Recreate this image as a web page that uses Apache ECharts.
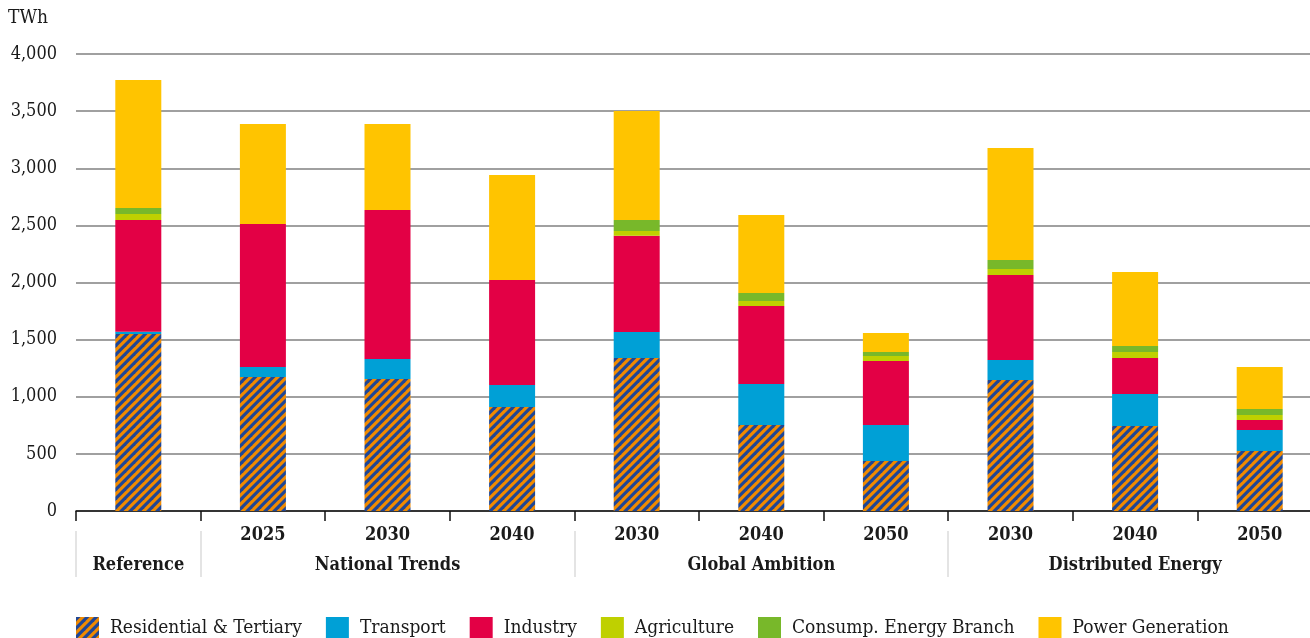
<!DOCTYPE html>
<html>
<head>
<meta charset="utf-8">
<script src="https://cdn.jsdelivr.net/npm/echarts@6/dist/echarts.min.js"></script>
<style>
  html, body { margin: 0; padding: 0; background: #fff; }
  #chart { width: 1310px; height: 638px; }
</style>
</head>
<body>
<div id="chart"></div>
<script>
// scenario years (first axis row) and scenario names (second axis row)
const years = ['', '2025', '2030', '2040', '2030', '2040', '2050', '2030', '2040', '2050']
const groups = ['Reference', '', 'National Trends', '', '', 'Global Ambition', '', '', 'Distributed Energy', '']
const groupStarts = [0, 1, 4, 7]

// TWh per sector
const residential = [1550, 1173, 1155, 910, 1340, 753, 438, 1147, 744, 525]
const transport = [20, 87, 175, 193, 227, 359, 315, 175, 280, 184]
const industry = [977, 1252, 1305, 919, 843, 682, 560, 744, 315, 87]
const agriculture = [53, 0, 0, 0, 41, 44, 44, 52, 53, 44]
const consumpBranch = [52, 0, 0, 0, 96, 70, 35, 79, 52, 53]
const powerGeneration = [1120, 875, 752, 919, 954, 683, 166, 980, 648, 367]

const yTicks = { min: 0, max: 4000, interval: 500 }

const FONT = "'DejaVu Serif Condensed', 'DejaVu Serif', serif"
const TEXT = '#1a1a1a'

// diagonal orange/blue hatch for residential
function makeHatch() {
	const s = 9
	const c = document.createElement('canvas')
	c.width = s
	c.height = s
	const ctx = c.getContext('2d')
	ctx.fillStyle = '#f08a00'
	ctx.fillRect(0, 0, s, s)
	ctx.fillStyle = '#1f4696'
	const w = s / 2
	for (let k = -1; k <= 1; k++) {
		const o = k * s
		ctx.beginPath()
		ctx.moveTo(o, s)
		ctx.lineTo(o + w, s)
		ctx.lineTo(o + w + s, 0)
		ctx.lineTo(o + s, 0)
		ctx.closePath()
		ctx.fill()
	}
	return c
}

const sectors = [
	{ name: 'Residential & Tertiary', data: residential, color: { image: makeHatch(), repeat: 'repeat' } },
	{ name: 'Transport', data: transport, color: '#00a0d6' },
	{ name: 'Industry', data: industry, color: '#e30045' },
	{ name: 'Agriculture', data: agriculture, color: '#bfd000' },
	{ name: 'Consump. Energy Branch', data: consumpBranch, color: '#78b82a' },
	{ name: 'Power Generation', data: powerGeneration, color: '#ffc400' },
]

const chart = echarts.init(document.getElementById('chart'))
chart.setOption({
	animation: false,
	textStyle: { fontFamily: FONT },
	title: {
		text: 'TWh',
		left: 8,
		top: 9,
		padding: 0,
		textStyle: { fontFamily: FONT, fontSize: 19, fontWeight: 'normal', color: TEXT },
	},
	legend: {
		left: 76,
		top: 617,
		padding: 0,
		icon: 'rect',
		itemWidth: 23,
		itemHeight: 22,
		itemGap: 24,
		textStyle: { fontFamily: FONT, fontSize: 19, color: TEXT, padding: [0, 0, 0, 6] },
	},
	// plot runs past the right edge of the picture, as in the original
	grid: { left: 76, width: 1246, top: 54, bottom: 127, outerBoundsMode: 'none', containLabel: false },
	xAxis: [
		{
			type: 'category',
			data: years,
			axisLine: { lineStyle: { color: '#111', width: 1.5 } },
			axisTick: { show: true, interval: 0, length: 10, lineStyle: { color: '#111', width: 1.5 } },
			axisLabel: { interval: 0, margin: 15, fontFamily: FONT, fontSize: 18, fontWeight: 'bold', color: TEXT },
		},
		{
			type: 'category',
			data: groups,
			position: 'bottom',
			offset: 20,
			axisLine: { show: false },
			axisTick: {
				show: true,
				length: 46,
				interval: (index) => groupStarts.includes(index),
				lineStyle: { color: '#dcdcdc', width: 1.5 },
			},
			axisLabel: { interval: 0, margin: 25, fontFamily: FONT, fontSize: 18, fontWeight: 'bold', color: TEXT },
		},
	],
	yAxis: {
		type: 'value',
		min: yTicks.min,
		max: yTicks.max,
		interval: yTicks.interval,
		axisLine: { show: false },
		axisTick: { show: false },
		splitLine: { lineStyle: { color: '#808080', width: 1.5 } },
		axisLabel: {
			margin: 19,
			fontFamily: FONT,
			fontSize: 18,
			color: TEXT,
			formatter: (v) => v.toLocaleString('en-US'),
		},
	},
	series: sectors.map((s) => ({
		name: s.name,
		type: 'bar',
		stack: 'total',
		barWidth: 46,
		data: s.data,
		itemStyle: { color: s.color },
	})),
})
</script>
</body>
</html>
